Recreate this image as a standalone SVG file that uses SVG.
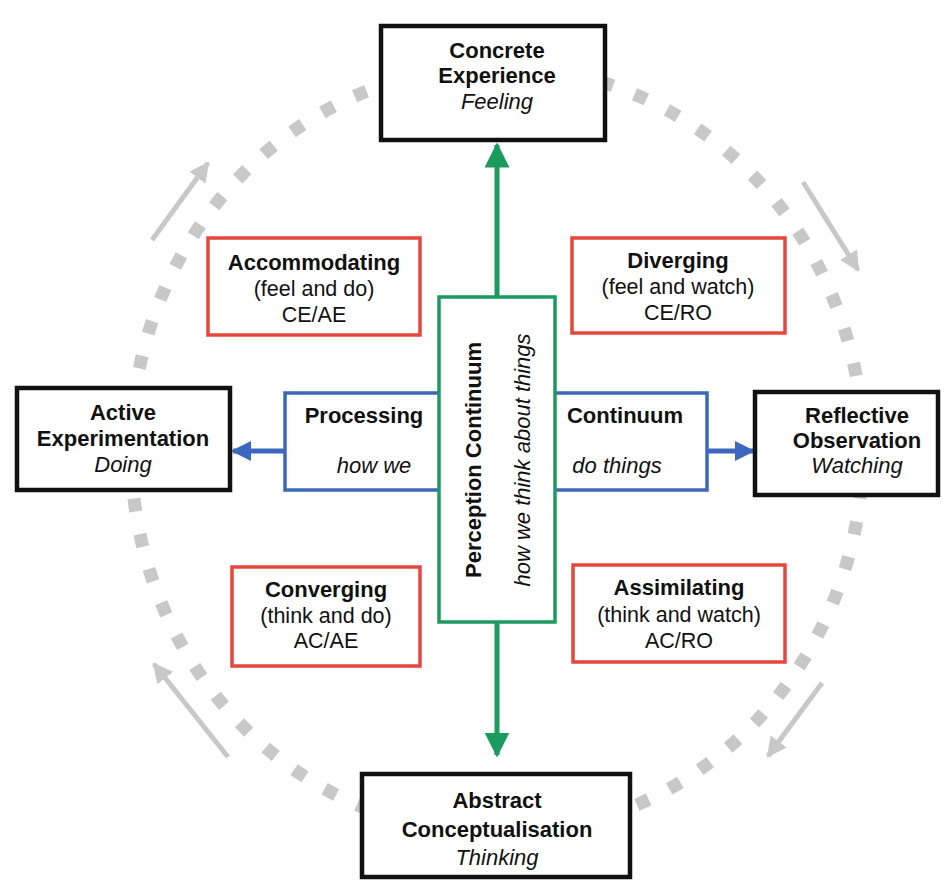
<svg xmlns="http://www.w3.org/2000/svg" width="946" height="894" viewBox="0 0 946 894">
<defs>
<style>
text{font-family:"Liberation Sans",Arial,sans-serif;font-size:22px;fill:#111;text-anchor:middle}
.b{font-weight:bold}
.i{font-style:italic}
.r{font-size:21.5px}
.main{fill:#fff;stroke:#111;stroke-width:4.5}
.quad{fill:#fff;stroke:#e5473c;stroke-width:3.5}
.blue{fill:#fff;stroke:#3d67bd;stroke-width:3.5}
.green{fill:#fff;stroke:#1c9b5e;stroke-width:3.5}
.gl{stroke:#1c9b5e;stroke-width:5;fill:none}
.bl{stroke:#3d67bd;stroke-width:5;fill:none}
.gy{stroke:#c8c8c8;stroke-width:5;fill:none}
</style>
<marker id="ag" viewBox="0 0 10 10" refX="9" refY="5" markerWidth="5" markerHeight="5" orient="auto" markerUnits="strokeWidth"><path d="M0,0 L10,5 L0,10 z" fill="#1c9b5e"/></marker>
<marker id="ab" viewBox="0 0 10 10" refX="9" refY="5" markerWidth="4" markerHeight="4" orient="auto" markerUnits="strokeWidth"><path d="M0,0 L10,5 L0,10 z" fill="#3d67bd"/></marker>
<marker id="ay" viewBox="0 0 10 10" refX="9" refY="5" markerWidth="4" markerHeight="4" orient="auto" markerUnits="strokeWidth"><path d="M0,0 L10,5 L0,10 z" fill="#c8c8c8"/></marker>
</defs>
<rect width="946" height="894" fill="#fff"/>
<g id="cycle">
<ellipse cx="497" cy="450" rx="366" ry="384" fill="none" stroke="#c8c8c8" stroke-width="13" stroke-dasharray="13 23"/>
</g>
<g id="connectors">
<line class="gy" x1="152" y1="240" x2="208" y2="163" marker-end="url(#ay)"/>
<line class="gy" x1="803" y1="182" x2="858" y2="270" marker-end="url(#ay)"/>
<line class="gy" x1="822" y1="683" x2="768" y2="756" marker-end="url(#ay)"/>
<line class="gy" x1="228" y1="757" x2="154" y2="664" marker-end="url(#ay)"/>
<line class="gl" x1="497" y1="297" x2="497" y2="145" marker-end="url(#ag)"/>
<line class="gl" x1="497" y1="622" x2="497" y2="755" marker-end="url(#ag)"/>
<line class="bl" x1="285" y1="451" x2="233" y2="451" marker-end="url(#ab)"/>
<line class="bl" x1="707" y1="451" x2="753" y2="451" marker-end="url(#ab)"/>
</g>
<g id="processing">
<rect class="blue" x="285" y="393" width="422" height="97"/>
<text class="b" x="364" y="423">Processing</text>
<text class="i" x="374" y="473">how we</text>
<text class="b" x="625" y="423">Continuum</text>
<text class="i" x="617" y="473">do things</text>
</g>
<g id="perception">
<rect class="green" x="439" y="297" width="116" height="325"/>
<text class="b" transform="translate(481,460) rotate(-90)">Perception Continuum</text>
<text class="i" transform="translate(530,460) rotate(-90)">how we think about things</text>
</g>
<g id="ce">
<rect class="main" x="381" y="26" width="224" height="114"/>
<text class="b" x="497" y="58">Concrete</text>
<text class="b" x="497" y="83">Experience</text>
<text class="i" x="497" y="109">Feeling</text>
</g>
<g id="ae">
<rect class="main" x="17" y="388" width="213" height="102"/>
<text class="b" x="123" y="420">Active</text>
<text class="b" x="123" y="446">Experimentation</text>
<text class="i" x="123" y="472">Doing</text>
</g>
<g id="ro">
<rect class="main" x="755" y="392" width="183" height="103"/>
<text class="b" x="857" y="423">Reflective</text>
<text class="b" x="857" y="448">Observation</text>
<text class="i" x="857" y="473">Watching</text>
</g>
<g id="ac">
<rect class="main" x="362" y="774" width="268" height="103"/>
<text class="b" x="497" y="808">Abstract</text>
<text class="b" x="497" y="837">Conceptualisation</text>
<text class="i" x="497" y="865">Thinking</text>
</g>
<g id="accommodating">
<rect class="quad" x="208" y="238" width="212" height="97"/>
<text class="b" x="314" y="270">Accommodating</text>
<text class="r" x="314" y="296">(feel and do)</text>
<text class="r" x="314" y="322">CE/AE</text>
</g>
<g id="diverging">
<rect class="quad" x="572" y="238" width="213" height="95"/>
<text class="b" x="678" y="268">Diverging</text>
<text class="r" x="678" y="294">(feel and watch)</text>
<text class="r" x="678" y="320">CE/RO</text>
</g>
<g id="converging">
<rect class="quad" x="232" y="567" width="188" height="99"/>
<text class="b" x="326" y="597">Converging</text>
<text class="r" x="326" y="623">(think and do)</text>
<text class="r" x="326" y="648">AC/AE</text>
</g>
<g id="assimilating">
<rect class="quad" x="573" y="565" width="212" height="97"/>
<text class="b" x="679" y="595">Assimilating</text>
<text class="r" x="679" y="622">(think and watch)</text>
<text class="r" x="679" y="648">AC/RO</text>
</g>
</svg>
